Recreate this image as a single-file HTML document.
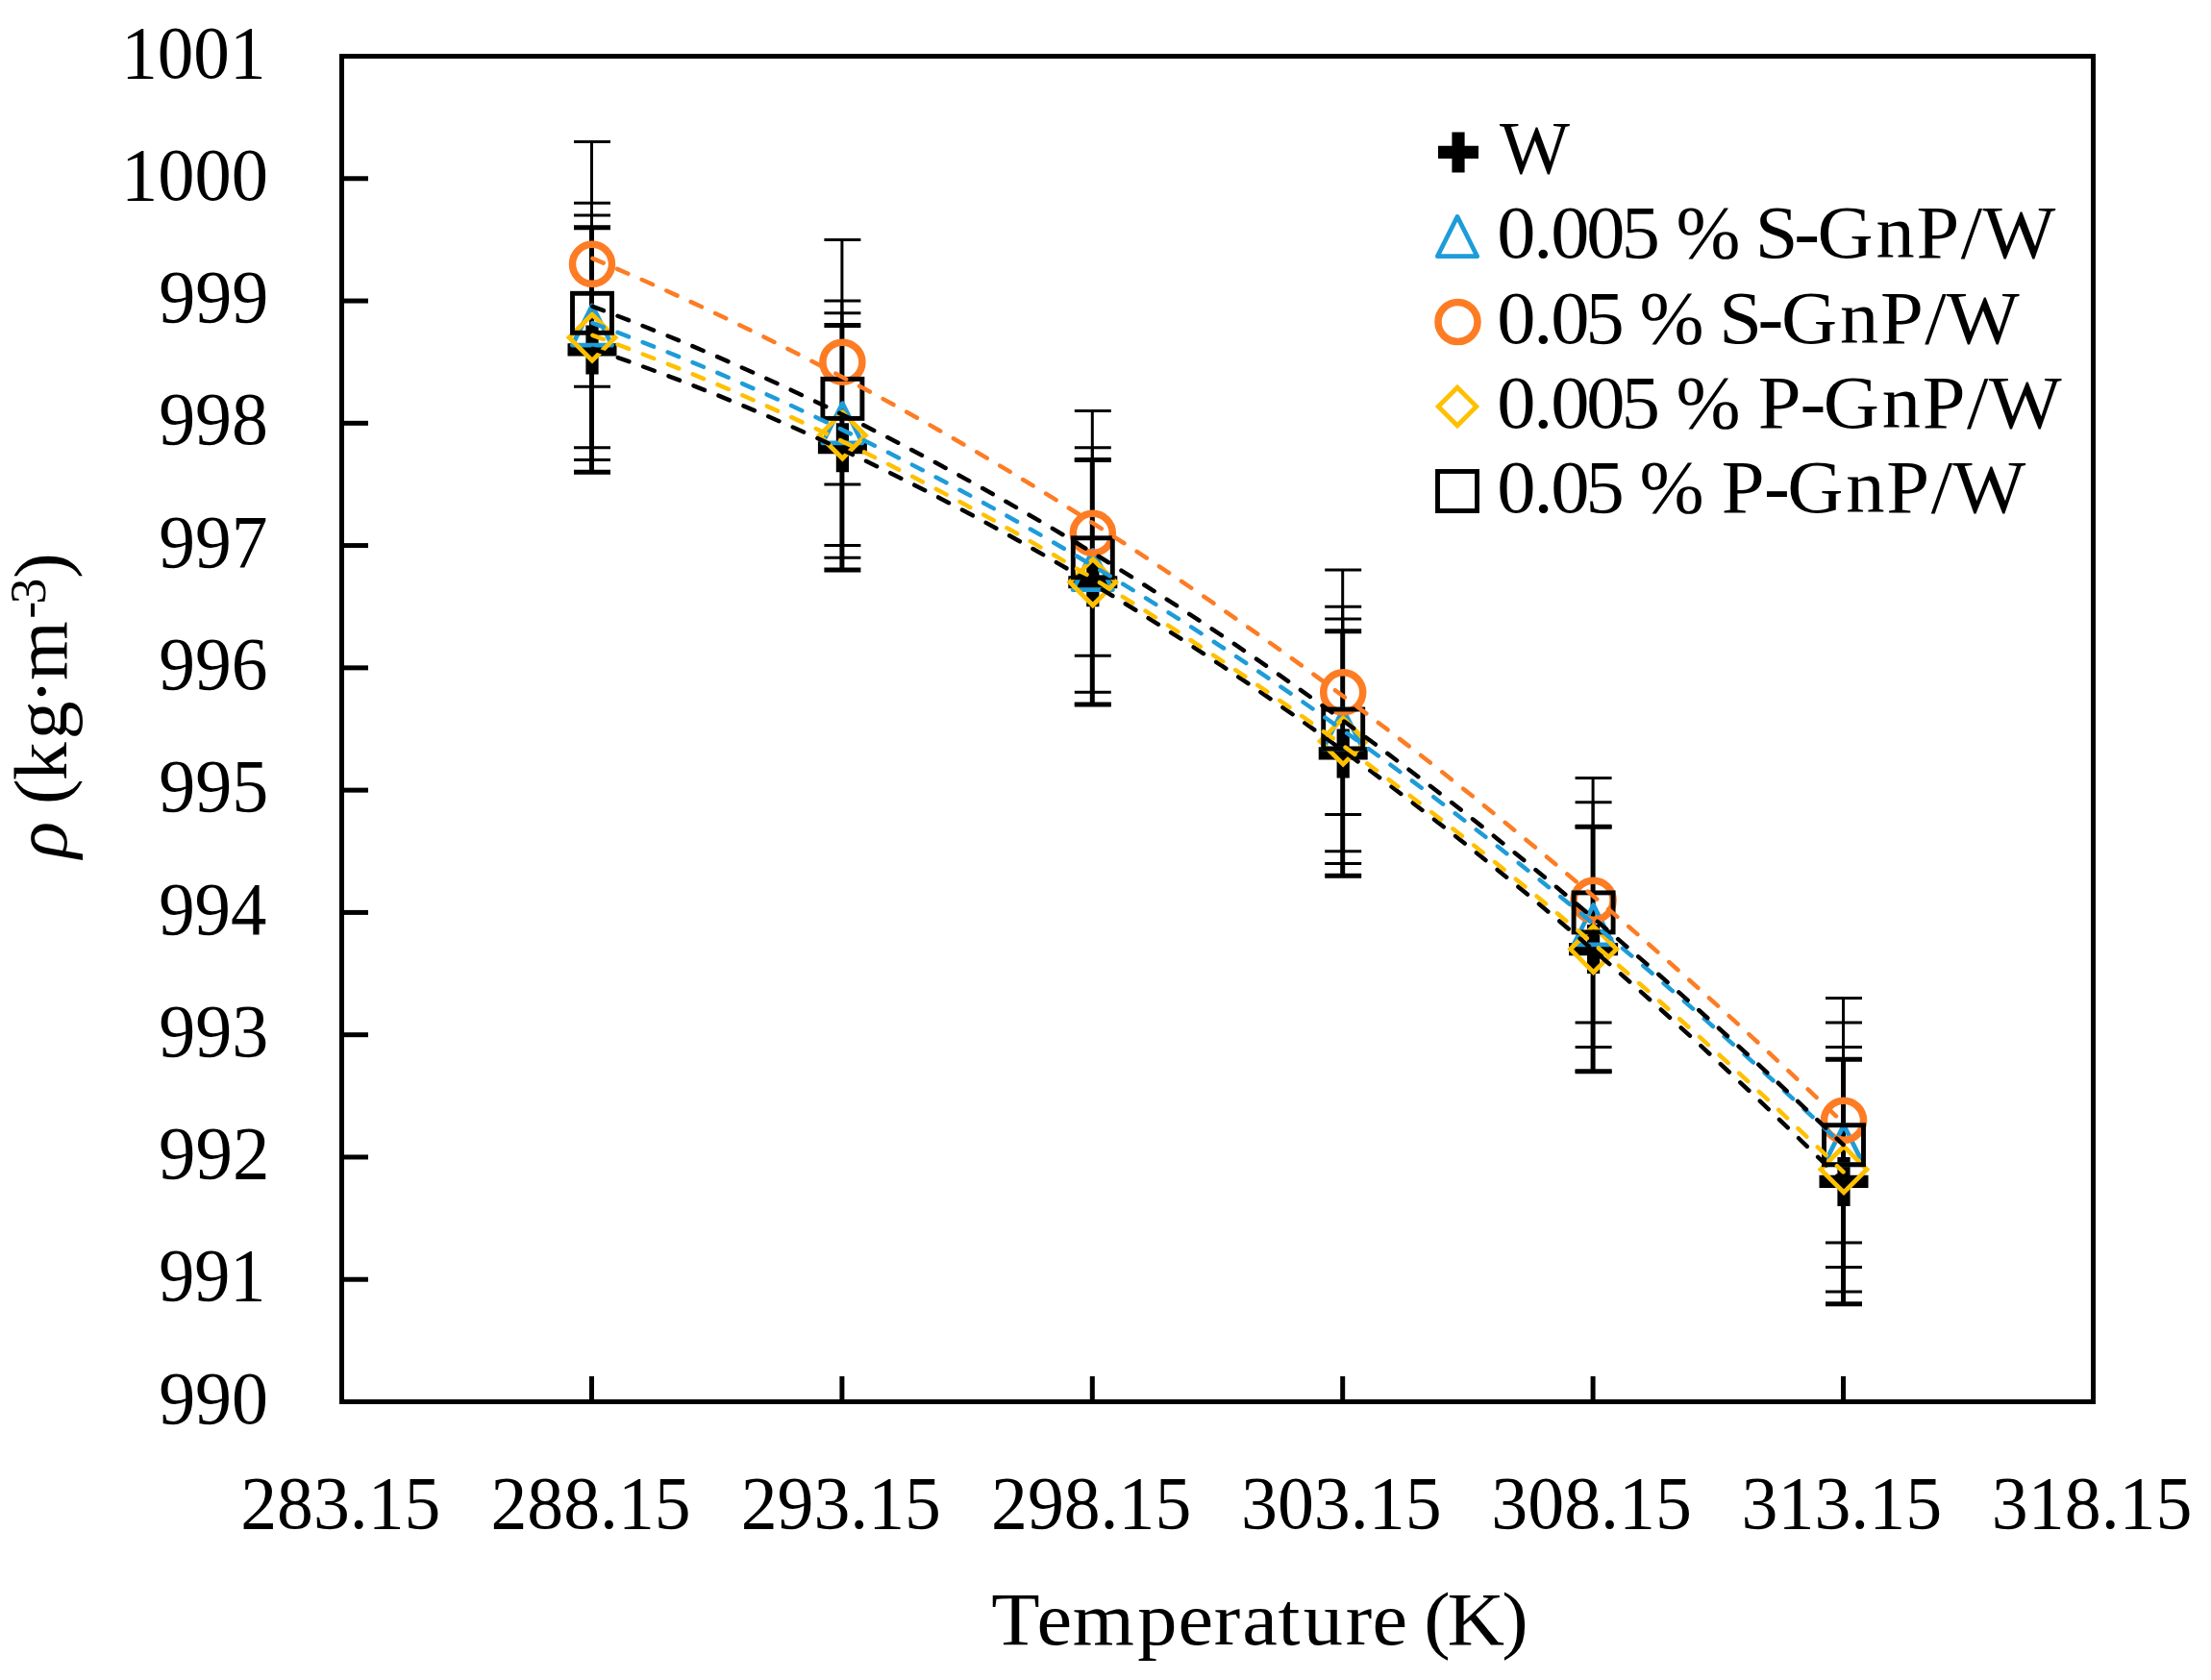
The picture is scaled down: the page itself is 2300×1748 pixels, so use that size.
<!DOCTYPE html>
<html><head><meta charset="utf-8"><style>
html,body{margin:0;padding:0;background:#fff;}
svg{display:block;}
text{font-family:"Liberation Serif", serif;fill:#000;font-kerning:none;}
</style></head><body>
<svg width="2300" height="1748" viewBox="0 0 2300 1748">
<rect x="0" y="0" width="2300" height="1748" fill="#fff"/>
<rect x="355.5" y="58.5" width="1822.0" height="1400.0" fill="none" stroke="#000" stroke-width="5"/>
<line x1="355.5" y1="1331.23" x2="383" y2="1331.23" stroke="#000" stroke-width="5"/>
<line x1="355.5" y1="1203.95" x2="383" y2="1203.95" stroke="#000" stroke-width="5"/>
<line x1="355.5" y1="1076.68" x2="383" y2="1076.68" stroke="#000" stroke-width="5"/>
<line x1="355.5" y1="949.41" x2="383" y2="949.41" stroke="#000" stroke-width="5"/>
<line x1="355.5" y1="822.14" x2="383" y2="822.14" stroke="#000" stroke-width="5"/>
<line x1="355.5" y1="694.86" x2="383" y2="694.86" stroke="#000" stroke-width="5"/>
<line x1="355.5" y1="567.59" x2="383" y2="567.59" stroke="#000" stroke-width="5"/>
<line x1="355.5" y1="440.32" x2="383" y2="440.32" stroke="#000" stroke-width="5"/>
<line x1="355.5" y1="313.05" x2="383" y2="313.05" stroke="#000" stroke-width="5"/>
<line x1="355.5" y1="185.77" x2="383" y2="185.77" stroke="#000" stroke-width="5"/>
<line x1="615.50" y1="1458.5" x2="615.50" y2="1432" stroke="#000" stroke-width="5"/>
<line x1="875.90" y1="1458.5" x2="875.90" y2="1432" stroke="#000" stroke-width="5"/>
<line x1="1136.30" y1="1458.5" x2="1136.30" y2="1432" stroke="#000" stroke-width="5"/>
<line x1="1396.70" y1="1458.5" x2="1396.70" y2="1432" stroke="#000" stroke-width="5"/>
<line x1="1657.10" y1="1458.5" x2="1657.10" y2="1432" stroke="#000" stroke-width="5"/>
<line x1="1917.50" y1="1458.5" x2="1917.50" y2="1432" stroke="#000" stroke-width="5"/>
<line x1="615.50" y1="236.68" x2="615.50" y2="491.23" stroke="#000" stroke-width="5.0"/>
<line x1="597.00" y1="236.68" x2="635.00" y2="236.68" stroke="#000" stroke-width="5.0"/>
<line x1="597.00" y1="491.23" x2="635.00" y2="491.23" stroke="#000" stroke-width="5.0"/>
<line x1="875.90" y1="338.50" x2="875.90" y2="593.05" stroke="#000" stroke-width="5.0"/>
<line x1="857.40" y1="338.50" x2="895.40" y2="338.50" stroke="#000" stroke-width="5.0"/>
<line x1="857.40" y1="593.05" x2="895.40" y2="593.05" stroke="#000" stroke-width="5.0"/>
<line x1="1136.30" y1="478.50" x2="1136.30" y2="733.05" stroke="#000" stroke-width="5.0"/>
<line x1="1117.80" y1="478.50" x2="1155.80" y2="478.50" stroke="#000" stroke-width="5.0"/>
<line x1="1117.80" y1="733.05" x2="1155.80" y2="733.05" stroke="#000" stroke-width="5.0"/>
<line x1="1396.70" y1="656.68" x2="1396.70" y2="911.23" stroke="#000" stroke-width="5.0"/>
<line x1="1378.20" y1="656.68" x2="1416.20" y2="656.68" stroke="#000" stroke-width="5.0"/>
<line x1="1378.20" y1="911.23" x2="1416.20" y2="911.23" stroke="#000" stroke-width="5.0"/>
<line x1="1657.10" y1="860.32" x2="1657.10" y2="1114.86" stroke="#000" stroke-width="5.0"/>
<line x1="1638.60" y1="860.32" x2="1676.60" y2="860.32" stroke="#000" stroke-width="5.0"/>
<line x1="1638.60" y1="1114.86" x2="1676.60" y2="1114.86" stroke="#000" stroke-width="5.0"/>
<line x1="1917.50" y1="1102.14" x2="1917.50" y2="1356.68" stroke="#000" stroke-width="5.0"/>
<line x1="1899.00" y1="1102.14" x2="1937.00" y2="1102.14" stroke="#000" stroke-width="5.0"/>
<line x1="1899.00" y1="1356.68" x2="1937.00" y2="1356.68" stroke="#000" stroke-width="5.0"/>
<line x1="615.50" y1="211.23" x2="615.50" y2="465.77" stroke="#000" stroke-width="3.0"/>
<line x1="597.00" y1="211.23" x2="635.00" y2="211.23" stroke="#000" stroke-width="3.0"/>
<line x1="597.00" y1="465.77" x2="635.00" y2="465.77" stroke="#000" stroke-width="3.0"/>
<line x1="875.90" y1="313.05" x2="875.90" y2="567.59" stroke="#000" stroke-width="3.0"/>
<line x1="857.40" y1="313.05" x2="895.40" y2="313.05" stroke="#000" stroke-width="3.0"/>
<line x1="857.40" y1="567.59" x2="895.40" y2="567.59" stroke="#000" stroke-width="3.0"/>
<line x1="1136.30" y1="465.77" x2="1136.30" y2="720.32" stroke="#000" stroke-width="3.0"/>
<line x1="1117.80" y1="465.77" x2="1155.80" y2="465.77" stroke="#000" stroke-width="3.0"/>
<line x1="1117.80" y1="720.32" x2="1155.80" y2="720.32" stroke="#000" stroke-width="3.0"/>
<line x1="1396.70" y1="631.23" x2="1396.70" y2="885.77" stroke="#000" stroke-width="3.0"/>
<line x1="1378.20" y1="631.23" x2="1416.20" y2="631.23" stroke="#000" stroke-width="3.0"/>
<line x1="1378.20" y1="885.77" x2="1416.20" y2="885.77" stroke="#000" stroke-width="3.0"/>
<line x1="1657.10" y1="834.86" x2="1657.10" y2="1089.41" stroke="#000" stroke-width="3.0"/>
<line x1="1638.60" y1="834.86" x2="1676.60" y2="834.86" stroke="#000" stroke-width="3.0"/>
<line x1="1638.60" y1="1089.41" x2="1676.60" y2="1089.41" stroke="#000" stroke-width="3.0"/>
<line x1="1917.50" y1="1063.95" x2="1917.50" y2="1318.50" stroke="#000" stroke-width="3.0"/>
<line x1="1899.00" y1="1063.95" x2="1937.00" y2="1063.95" stroke="#000" stroke-width="3.0"/>
<line x1="1899.00" y1="1318.50" x2="1937.00" y2="1318.50" stroke="#000" stroke-width="3.0"/>
<line x1="615.50" y1="147.59" x2="615.50" y2="402.14" stroke="#000" stroke-width="3.0"/>
<line x1="597.00" y1="147.59" x2="635.00" y2="147.59" stroke="#000" stroke-width="3.0"/>
<line x1="597.00" y1="402.14" x2="635.00" y2="402.14" stroke="#000" stroke-width="3.0"/>
<line x1="875.90" y1="249.41" x2="875.90" y2="503.95" stroke="#000" stroke-width="3.0"/>
<line x1="857.40" y1="249.41" x2="895.40" y2="249.41" stroke="#000" stroke-width="3.0"/>
<line x1="857.40" y1="503.95" x2="895.40" y2="503.95" stroke="#000" stroke-width="3.0"/>
<line x1="1136.30" y1="427.59" x2="1136.30" y2="682.14" stroke="#000" stroke-width="3.0"/>
<line x1="1117.80" y1="427.59" x2="1155.80" y2="427.59" stroke="#000" stroke-width="3.0"/>
<line x1="1117.80" y1="682.14" x2="1155.80" y2="682.14" stroke="#000" stroke-width="3.0"/>
<line x1="1396.70" y1="593.05" x2="1396.70" y2="847.59" stroke="#000" stroke-width="3.0"/>
<line x1="1378.20" y1="593.05" x2="1416.20" y2="593.05" stroke="#000" stroke-width="3.0"/>
<line x1="1378.20" y1="847.59" x2="1416.20" y2="847.59" stroke="#000" stroke-width="3.0"/>
<line x1="1657.10" y1="809.41" x2="1657.10" y2="1063.95" stroke="#000" stroke-width="3.0"/>
<line x1="1638.60" y1="809.41" x2="1676.60" y2="809.41" stroke="#000" stroke-width="3.0"/>
<line x1="1638.60" y1="1063.95" x2="1676.60" y2="1063.95" stroke="#000" stroke-width="3.0"/>
<line x1="1917.50" y1="1038.50" x2="1917.50" y2="1293.05" stroke="#000" stroke-width="3.0"/>
<line x1="1899.00" y1="1038.50" x2="1937.00" y2="1038.50" stroke="#000" stroke-width="3.0"/>
<line x1="1899.00" y1="1293.05" x2="1937.00" y2="1293.05" stroke="#000" stroke-width="3.0"/>
<line x1="615.50" y1="223.95" x2="615.50" y2="478.50" stroke="#000" stroke-width="3.0"/>
<line x1="597.00" y1="223.95" x2="635.00" y2="223.95" stroke="#000" stroke-width="3.0"/>
<line x1="597.00" y1="478.50" x2="635.00" y2="478.50" stroke="#000" stroke-width="3.0"/>
<line x1="875.90" y1="325.77" x2="875.90" y2="580.32" stroke="#000" stroke-width="3.0"/>
<line x1="857.40" y1="325.77" x2="895.40" y2="325.77" stroke="#000" stroke-width="3.0"/>
<line x1="857.40" y1="580.32" x2="895.40" y2="580.32" stroke="#000" stroke-width="3.0"/>
<line x1="1136.30" y1="478.50" x2="1136.30" y2="733.05" stroke="#000" stroke-width="3.0"/>
<line x1="1117.80" y1="478.50" x2="1155.80" y2="478.50" stroke="#000" stroke-width="3.0"/>
<line x1="1117.80" y1="733.05" x2="1155.80" y2="733.05" stroke="#000" stroke-width="3.0"/>
<line x1="1396.70" y1="643.95" x2="1396.70" y2="898.50" stroke="#000" stroke-width="3.0"/>
<line x1="1378.20" y1="643.95" x2="1416.20" y2="643.95" stroke="#000" stroke-width="3.0"/>
<line x1="1378.20" y1="898.50" x2="1416.20" y2="898.50" stroke="#000" stroke-width="3.0"/>
<line x1="1657.10" y1="860.32" x2="1657.10" y2="1114.86" stroke="#000" stroke-width="3.0"/>
<line x1="1638.60" y1="860.32" x2="1676.60" y2="860.32" stroke="#000" stroke-width="3.0"/>
<line x1="1638.60" y1="1114.86" x2="1676.60" y2="1114.86" stroke="#000" stroke-width="3.0"/>
<line x1="1917.50" y1="1089.41" x2="1917.50" y2="1343.95" stroke="#000" stroke-width="3.0"/>
<line x1="1899.00" y1="1089.41" x2="1937.00" y2="1089.41" stroke="#000" stroke-width="3.0"/>
<line x1="1899.00" y1="1343.95" x2="1937.00" y2="1343.95" stroke="#000" stroke-width="3.0"/>
<path d="M609.40,338.45h13.20v18.90h18.90v13.20h-18.90v18.90h-13.20v-18.90h-18.90v-13.20h18.90z" fill="#000"/>
<path d="M869.80,440.27h13.20v18.90h18.90v13.20h-18.90v18.90h-13.20v-18.90h-18.90v-13.20h18.90z" fill="#000"/>
<path d="M1130.20,580.27h13.20v18.90h18.90v13.20h-18.90v18.90h-13.20v-18.90h-18.90v-13.20h18.90z" fill="#000"/>
<path d="M1390.60,758.45h13.20v18.90h18.90v13.20h-18.90v18.90h-13.20v-18.90h-18.90v-13.20h18.90z" fill="#000"/>
<path d="M1651.00,962.09h13.20v18.90h18.90v13.20h-18.90v18.90h-13.20v-18.90h-18.90v-13.20h18.90z" fill="#000"/>
<path d="M1911.40,1203.91h13.20v18.90h18.90v13.20h-18.90v18.90h-13.20v-18.90h-18.90v-13.20h18.90z" fill="#000"/>
<path d="M616.00,317.85L636.65,359.15L595.35,359.15z" fill="none" stroke="#1E9CD8" stroke-width="4.7" stroke-linejoin="round"/>
<path d="M876.40,419.67L897.05,460.97L855.75,460.97z" fill="none" stroke="#1E9CD8" stroke-width="4.7" stroke-linejoin="round"/>
<path d="M1136.80,572.40L1157.45,613.70L1116.15,613.70z" fill="none" stroke="#1E9CD8" stroke-width="4.7" stroke-linejoin="round"/>
<path d="M1397.20,737.85L1417.85,779.15L1376.55,779.15z" fill="none" stroke="#1E9CD8" stroke-width="4.7" stroke-linejoin="round"/>
<path d="M1657.60,941.49L1678.25,982.79L1636.95,982.79z" fill="none" stroke="#1E9CD8" stroke-width="4.7" stroke-linejoin="round"/>
<path d="M1918.00,1170.58L1938.65,1211.88L1897.35,1211.88z" fill="none" stroke="#1E9CD8" stroke-width="4.7" stroke-linejoin="round"/>
<circle cx="616.00" cy="274.86" r="20.5" fill="none" stroke="#FD7C24" stroke-width="7.5"/>
<circle cx="876.40" cy="376.68" r="20.5" fill="none" stroke="#FD7C24" stroke-width="7.5"/>
<circle cx="1136.80" cy="554.86" r="20.5" fill="none" stroke="#FD7C24" stroke-width="7.5"/>
<circle cx="1397.20" cy="720.32" r="20.5" fill="none" stroke="#FD7C24" stroke-width="7.5"/>
<circle cx="1657.60" cy="936.68" r="20.5" fill="none" stroke="#FD7C24" stroke-width="7.5"/>
<circle cx="1918.00" cy="1165.77" r="20.5" fill="none" stroke="#FD7C24" stroke-width="7.5"/>
<path d="M616.00,327.23L640.00,351.23L616.00,375.23L592.00,351.23z" fill="none" stroke="#FFC000" stroke-width="4.8" stroke-linejoin="miter"/>
<path d="M876.40,429.05L900.40,453.05L876.40,477.05L852.40,453.05z" fill="none" stroke="#FFC000" stroke-width="4.8" stroke-linejoin="miter"/>
<path d="M1136.80,581.77L1160.80,605.77L1136.80,629.77L1112.80,605.77z" fill="none" stroke="#FFC000" stroke-width="4.8" stroke-linejoin="miter"/>
<path d="M1397.20,747.23L1421.20,771.23L1397.20,795.23L1373.20,771.23z" fill="none" stroke="#FFC000" stroke-width="4.8" stroke-linejoin="miter"/>
<path d="M1657.60,963.59L1681.60,987.59L1657.60,1011.59L1633.60,987.59z" fill="none" stroke="#FFC000" stroke-width="4.8" stroke-linejoin="miter"/>
<path d="M1918.00,1192.68L1942.00,1216.68L1918.00,1240.68L1894.00,1216.68z" fill="none" stroke="#FFC000" stroke-width="4.8" stroke-linejoin="miter"/>
<rect x="595.50" y="305.27" width="41.00" height="41.00" fill="none" stroke="#000" stroke-width="4.9"/>
<rect x="855.90" y="394.36" width="41.00" height="41.00" fill="none" stroke="#000" stroke-width="4.9"/>
<rect x="1116.30" y="559.82" width="41.00" height="41.00" fill="none" stroke="#000" stroke-width="4.9"/>
<rect x="1376.70" y="738.00" width="41.00" height="41.00" fill="none" stroke="#000" stroke-width="4.9"/>
<rect x="1637.10" y="928.91" width="41.00" height="41.00" fill="none" stroke="#000" stroke-width="4.9"/>
<rect x="1897.50" y="1170.73" width="41.00" height="41.00" fill="none" stroke="#000" stroke-width="4.9"/>
<path d="M615.50,362.59Q1266.50,583.16 1917.50,1229.86" fill="none" stroke="#000" stroke-width="4.5" stroke-dasharray="12.3 15.7" stroke-dashoffset="-1" stroke-linecap="round"/>
<path d="M615.50,335.77Q1266.50,576.45 1917.50,1192.14" fill="none" stroke="#1E9CD8" stroke-width="4.5" stroke-dasharray="12.3 15.7" stroke-dashoffset="-1" stroke-linecap="round"/>
<path d="M615.50,268.50Q1266.50,542.36 1917.50,1168.50" fill="none" stroke="#FD7C24" stroke-width="4.5" stroke-dasharray="12.3 15.7" stroke-dashoffset="-1" stroke-linecap="round"/>
<path d="M615.50,348.50Q1266.50,585.09 1917.50,1219.41" fill="none" stroke="#FFC000" stroke-width="4.5" stroke-dasharray="12.3 15.7" stroke-dashoffset="-1" stroke-linecap="round"/>
<path d="M615.50,318.50Q1266.50,561.68 1917.50,1191.23" fill="none" stroke="#000" stroke-width="4.5" stroke-dasharray="12.3 15.7" stroke-dashoffset="-1" stroke-linecap="round"/>
<path d="M1510.40,137.40h13.20v14.40h14.40v13.20h-14.40v14.40h-13.20v-14.40h-14.40v-13.20h14.40z" fill="#000"/>
<text transform="translate(0,179.80) scale(0.9919,1)" x="1572.70" y="0" font-size="78">W</text>
<path d="M1516.00,225.35L1536.65,266.65L1495.35,266.65z" fill="none" stroke="#1E9CD8" stroke-width="4.7" stroke-linejoin="round"/>
<text transform="translate(0,268.20) scale(1.0308,1)" x="1510.72 1547.68 1565.05 1600.99 1636.24 1675.24 1691.42 1756.39 1771.24 1810.41 1834.09 1893.32 1934.03 1978.93 2000.82" y="0" font-size="78">0.005 % S-GnP/W</text>
<circle cx="1516.50" cy="335.00" r="20.5" fill="none" stroke="#FD7C24" stroke-width="7.5"/>
<text transform="translate(0,356.60) scale(1.0321,1)" x="1508.78 1545.70 1563.03 1598.09 1637.09 1652.46 1717.43 1732.63 1771.76 1795.39 1854.56 1895.21 1940.07 1961.90" y="0" font-size="78">0.05 % S-GnP/W</text>
<path d="M1516.00,403.20L1535.80,423.00L1516.00,442.80L1496.20,423.00z" fill="none" stroke="#FFC000" stroke-width="4.8" stroke-linejoin="miter"/>
<text transform="translate(0,445.00) scale(1.0318,1)" x="1509.26 1546.19 1563.53 1599.44 1634.65 1673.65 1689.77 1754.74 1772.34 1814.68 1838.31 1897.50 1938.17 1983.04 2004.88" y="0" font-size="78">0.005 % P-GnP/W</text>
<rect x="1495.50" y="490.50" width="41.00" height="41.00" fill="none" stroke="#000" stroke-width="4.9"/>
<text transform="translate(0,533.40) scale(1.0332,1)" x="1507.23 1544.13 1561.43 1596.45 1635.45 1650.75 1715.73 1733.27 1775.96 1799.54 1858.66 1899.27 1944.09 1965.88" y="0" font-size="78">0.05 % P-GnP/W</text>
<text transform="translate(69.1,0) rotate(-90) scale(1.0187,1)" font-size="78"><tspan font-style="italic" x="-876.65" y="0">ρ</tspan><tspan x="-839.22 -821.67 -797.20 -755.18 -719.22 -694.96" y="0"> (kg·m</tspan><tspan font-size="53" x="-632.04 -616.99" y="-22.3">-3</tspan><tspan x="-590.81" y="0">)</tspan></text>
<text transform="translate(165.15,1480.60) scale(0.9739,1)" font-size="78">990</text>
<text transform="translate(165.21,1353.33) scale(0.9508,1)" font-size="78">991</text>
<text transform="translate(165.12,1226.05) scale(0.9856,1)" font-size="78">992</text>
<text transform="translate(165.15,1098.78) scale(0.9745,1)" font-size="78">993</text>
<text transform="translate(165.19,971.51) scale(0.9588,1)" font-size="78">994</text>
<text transform="translate(165.15,844.24) scale(0.9745,1)" font-size="78">995</text>
<text transform="translate(165.17,716.96) scale(0.9682,1)" font-size="78">996</text>
<text transform="translate(165.17,589.69) scale(0.9676,1)" font-size="78">997</text>
<text transform="translate(165.15,462.42) scale(0.9739,1)" font-size="78">998</text>
<text transform="translate(165.15,335.15) scale(0.9759,1)" font-size="78">999</text>
<text transform="translate(126.07,207.87) scale(0.9810,1)" font-size="78">1000</text>
<text transform="translate(126.19,80.60) scale(0.9636,1)" font-size="78">1001</text>
<text transform="translate(250.17,1590.00) scale(0.9710,1)" font-size="78">283.15</text>
<text transform="translate(510.46,1590.00) scale(0.9710,1)" font-size="78">288.15</text>
<text transform="translate(770.74,1590.00) scale(0.9710,1)" font-size="78">293.15</text>
<text transform="translate(1031.03,1590.00) scale(0.9710,1)" font-size="78">298.15</text>
<text transform="translate(1291.01,1590.00) scale(0.9725,1)" font-size="78">303.15</text>
<text transform="translate(1551.30,1590.00) scale(0.9725,1)" font-size="78">308.15</text>
<text transform="translate(1811.59,1590.00) scale(0.9725,1)" font-size="78">313.15</text>
<text transform="translate(2071.87,1590.00) scale(0.9725,1)" font-size="78">318.15</text>
<text transform="translate(0,1710.80) scale(1.0562,1)" x="976.47 1021.17 1056.44 1120.36 1160.21 1195.65 1223.55 1258.69 1283.51 1325.27 1351.47 1386.09 1402.42 1425.37 1479.17" y="0" font-size="78">Temperature (K)</text>
</svg>
</body></html>
